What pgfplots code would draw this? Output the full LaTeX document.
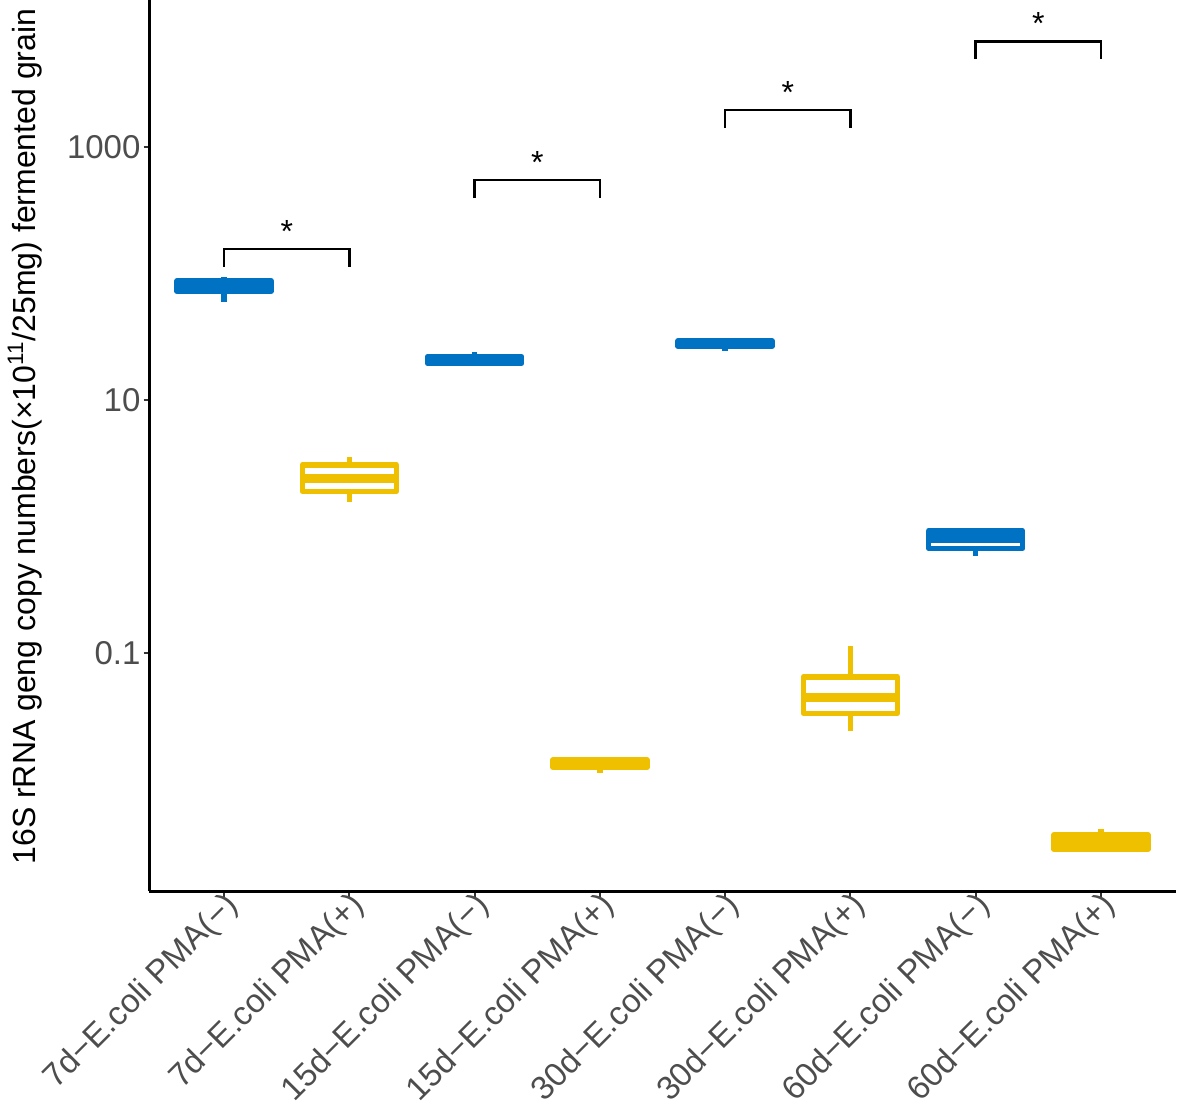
\documentclass[border=0pt]{standalone}
\usepackage{pgfplots}
\pgfplotsset{compat=1.18}
\usetikzlibrary{calc}
\usepackage{fontspec}
\setmainfont{Liberation Sans}
\definecolor{blueC}{RGB}{0,114,196}
\definecolor{yellowC}{RGB}{238,192,0}
\definecolor{tickgray}{RGB}{77,77,77}
\pgfplotsset{
  boxline/.style={line width=2.75pt, line join=round, mark=none},
  medline/.style={line width=4.5pt, mark=none},
  whisk/.style={line width=2.75pt, mark=none},
}
\begin{document}
\begin{tikzpicture}
\begin{axis}[
  name=ax,
  scale only axis,
  width=513.5pt, height=445.5pt,
  xmin=-0.6, xmax=7.6,
  ymode=log, ymin=0.001314, ymax=14527,
  axis lines=left,
  axis line style={-, line width=1.5pt, black},
  clip=false,
  xtick={0,1,2,3,4,5,6,7},
  xticklabels={7d−E.coli PMA(−),7d−E.coli PMA(+),15d−E.coli PMA(−),15d−E.coli PMA(+),30d−E.coli PMA(−),30d−E.coli PMA(+),60d−E.coli PMA(−),60d−E.coli PMA(+)},
  ytick={0.1,10,1000},
  yticklabels={0.1,10,1000},
  yminorticks=false, xminorticks=false,
  tick align=outside,
  major tick length=2.75pt,
  tick style={line width=1pt, color=black!80},
  xticklabel style={rotate=45, anchor=north east, font=\fontsize{16.5}{18}\selectfont, text=tickgray, inner sep=1pt, xshift=3pt, yshift=4pt},
  yticklabel style={font=\fontsize{16.5}{18}\selectfont, text=tickgray, xshift=2pt},
  ylabel={16S rRNA geng copy numbers(×10\textsuperscript{11}/25mg) fermented grain},
  ylabel style={at={(axis description cs:-0.1207,0.51)}, anchor=center, font=\fontsize{16}{18}\selectfont},
]
% ---- 7d PMA(-): lw 59.53, q1 72.39, med 79.66, q3 87.65, uw 94.34
\addplot[blueC, whisk] coordinates {(0,87.65) (0,94.34)};
\addplot[blueC, whisk] coordinates {(0,72.39) (0,59.53)};
\addplot[blueC, boxline] coordinates {(-0.375,72.39) (0.375,72.39) (0.375,87.65) (-0.375,87.65) (-0.375,72.39) (0.375,72.39)};
\addplot[blueC, medline] coordinates {(-0.375,79.66) (0.375,79.66)};
% ---- 7d PMA(+): lw 1.562, q1 1.900, med 2.383, q3 3.077, uw 3.543
\addplot[yellowC, whisk] coordinates {(1,3.077) (1,3.543)};
\addplot[yellowC, whisk] coordinates {(1,1.900) (1,1.562)};
\addplot[yellowC, boxline] coordinates {(0.625,1.900) (1.375,1.900) (1.375,3.077) (0.625,3.077) (0.625,1.900) (1.375,1.900)};
\addplot[yellowC, medline] coordinates {(0.625,2.383) (1.375,2.383)};
% ---- 15d PMA(-): q1 19.52, med 20.72, q3 21.98, uw 23.96
\addplot[blueC, whisk] coordinates {(2,21.98) (2,23.96)};
\addplot[blueC, boxline] coordinates {(1.625,19.52) (2.375,19.52) (2.375,21.98) (1.625,21.98) (1.625,19.52) (2.375,19.52)};
\addplot[blueC, medline] coordinates {(1.625,20.72) (2.375,20.72)};
% ---- 15d PMA(+): lw 0.01125, q1 0.01250, med 0.01338, q3 0.01432
\addplot[yellowC, whisk] coordinates {(3,0.01250) (3,0.01125)};
\addplot[yellowC, boxline] coordinates {(2.625,0.01250) (3.375,0.01250) (3.375,0.01432) (2.625,0.01432) (2.625,0.01250) (3.375,0.01250)};
\addplot[yellowC, medline] coordinates {(2.625,0.01338) (3.375,0.01338)};
% ---- 30d PMA(-): lw 24.40, q1 26.60, med 27.97, q3 29.40
\addplot[blueC, whisk] coordinates {(4,26.60) (4,24.40)};
\addplot[blueC, boxline] coordinates {(3.625,26.60) (4.375,26.60) (4.375,29.40) (3.625,29.40) (3.625,26.60) (4.375,26.60)};
\addplot[blueC, medline] coordinates {(3.625,27.97) (4.375,27.97)};
% ---- 30d PMA(+): lw 0.02417, q1 0.03339, med 0.04425, q3 0.06492, uw 0.1136
\addplot[yellowC, whisk] coordinates {(5,0.06492) (5,0.1136)};
\addplot[yellowC, whisk] coordinates {(5,0.03339) (5,0.02417)};
\addplot[yellowC, boxline] coordinates {(4.625,0.03339) (5.375,0.03339) (5.375,0.06492) (4.625,0.06492) (4.625,0.03339) (5.375,0.03339)};
\addplot[yellowC, medline] coordinates {(4.625,0.04425) (5.375,0.04425)};
% ---- 60d PMA(-): lw 0.5844, q1 0.6731, med 0.8036, q3 0.9256
\addplot[blueC, whisk] coordinates {(6,0.6731) (6,0.5844)};
\addplot[blueC, boxline] coordinates {(5.625,0.6731) (6.375,0.6731) (6.375,0.9256) (5.625,0.9256) (5.625,0.6731) (6.375,0.6731)};
\addplot[blueC, medline] coordinates {(5.625,0.8036) (6.375,0.8036)};
% ---- 60d PMA(+): q1 0.002810, med 0.003205, q3 0.003658, uw 0.004062
\addplot[yellowC, whisk] coordinates {(7,0.003658) (7,0.004062)};
\addplot[yellowC, boxline] coordinates {(6.625,0.002810) (7.375,0.002810) (7.375,0.003658) (6.625,0.003658) (6.625,0.002810) (7.375,0.002810)};
\addplot[yellowC, medline] coordinates {(6.625,0.003205) (7.375,0.003205)};
% significance brackets
\addplot[black, line width=1.25pt, mark=none] coordinates {(0,112.6) (0,156.2) (1,156.2) (1,112.6)};
\addplot[black, line width=1.25pt, mark=none] coordinates {(2,395.2) (2,548.4) (3,548.4) (3,395.2)};
\addplot[black, line width=1.25pt, mark=none] coordinates {(4,1413) (4,1961) (5,1961) (5,1413)};
\addplot[black, line width=1.25pt, mark=none] coordinates {(6,4962) (6,6799) (7,6799) (7,4962)};
\node[anchor=base, yshift=3.5pt, font=\fontsize{16}{18}\selectfont] at (axis cs:0.5,156.2) {*};
\node[anchor=base, yshift=3.5pt, font=\fontsize{16}{18}\selectfont] at (axis cs:2.5,548.4) {*};
\node[anchor=base, yshift=3.5pt, font=\fontsize{16}{18}\selectfont] at (axis cs:4.5,1961) {*};
\node[anchor=base, yshift=3.5pt, font=\fontsize{16}{18}\selectfont] at (axis cs:6.5,6799) {*};
\end{axis}
\pgfresetboundingbox
\path ($(ax.south west)+(-74.5pt,-108.5pt)$) rectangle ($(ax.north east)+(1.5pt,0pt)$);
\end{tikzpicture}
\end{document}
